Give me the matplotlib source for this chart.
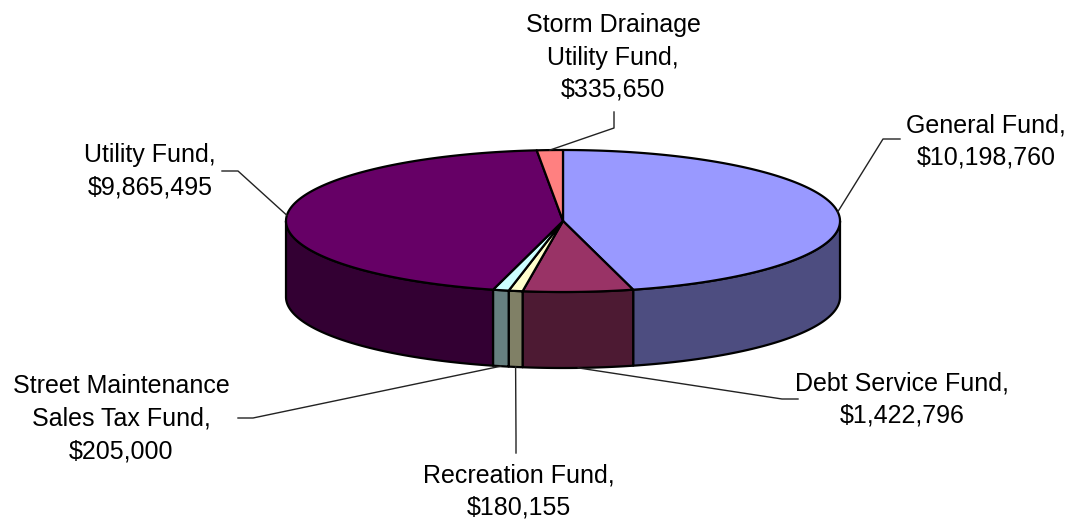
import numpy as np
import matplotlib.pyplot as plt
from matplotlib.patches import Polygon

plt.rcParams['font.family'] = ['Liberation Sans', 'DejaVu Sans']

# data
funds = ["General Fund", "Debt Service Fund", "Recreation Fund",
         "Street Maintenance\nSales Tax Fund", "Utility Fund",
         "Storm Drainage\nUtility Fund"]
amounts = [10198760, 1422796, 180155, 205000, 9865495, 335650]
colors = ["#9999FF", "#993366", "#FFFFCC", "#CCFFFF", "#660066", "#FF8080"]

# pie geometry (pixels)
cx, cy = 563, 221
a, b = 277, 71
depth = 76

# label layout: text centre x, first baseline y, elbow, line end
label_xy = [(986, 132), (902, 390), (519, 482), (121, 393), (150, 162), (613, 32)]
elbows = [(883, 139), (782, 399), (516, 437), (253, 418), (238, 171), (614, 128)]
ends = [(900, 139), (798, 399), (516, 453), (238, 418), (222, 171), (614, 112)]
line_gap = 32.5


def shade(c, f=0.5):
    c = np.array(plt.matplotlib.colors.to_rgb(c))
    return tuple(c * f)


def pt(t, dy=0):
    r = np.radians(t)
    return cx + a * np.sin(r), cy - b * np.cos(r) + dy


fig = plt.figure(figsize=(10.73, 5.23), dpi=100)
ax = fig.add_axes([0, 0, 1, 1])
ax.set_xlim(0, 1073)
ax.set_ylim(523, 0)
ax.axis('off')

fracs = np.array(amounts) / sum(amounts) * 360
starts = np.concatenate([[0], np.cumsum(fracs)[:-1]])

# side walls (front half only)
for s, f, c in zip(starts, fracs, colors):
    t1, t2 = max(s, 90), min(s + f, 270)
    if t2 <= t1:
        continue
    ts = np.linspace(t1, t2, 100)
    top = [pt(t) for t in ts]
    bot = [pt(t, depth) for t in ts[::-1]]
    ax.add_patch(Polygon(top + bot, closed=True, fc=shade(c), ec='black', lw=1.6,
                         joinstyle='round'))

# top faces
for s, f, c in zip(starts, fracs, colors):
    ts = np.linspace(s, s + f, max(int(f * 2), 4))
    poly = [(cx, cy)] + [pt(t) for t in ts]
    ax.add_patch(Polygon(poly, closed=True, fc=c, ec='black', lw=1.6, joinstyle='round'))

# labels and leader lines
for name, val, s, f, (tx, ty), el, en in zip(funds, amounts, starts, fracs,
                                             label_xy, elbows, ends):
    mid = s + f / 2
    front = 90 < mid < 270
    anchor = pt(mid, depth if front else 0)
    ax.plot([anchor[0], el[0], en[0]], [anchor[1], el[1], en[1]],
            color='#222222', lw=1.0)
    lines = (name + ",").split("\n") + ["${:,}".format(val)]
    for i, ln in enumerate(lines):
        ax.text(tx, ty + i * line_gap, ln, ha='center', va='baseline',
                fontsize=18, color='black')

fig.savefig("out.png", dpi=100)
